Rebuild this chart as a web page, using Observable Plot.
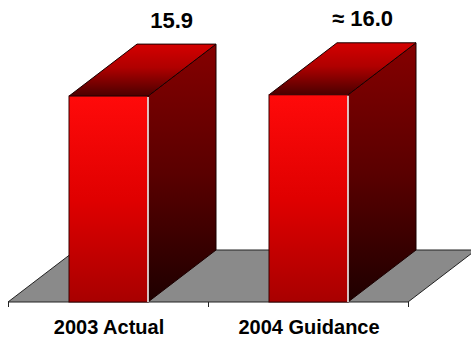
<!DOCTYPE html>
<html>
<head>
<meta charset="utf-8">
<script src="https://cdn.jsdelivr.net/npm/d3@7"></script>
<script src="https://cdn.jsdelivr.net/npm/@observablehq/plot@0.6"></script>
<style>
  html, body { margin: 0; padding: 0; background: white; }
  #chart svg { display: block; }
</style>
</head>
<body>
<div id="chart"></div>
<script>
const categories = ["2003 Actual", "2004 Guidance"];
const values = [15.9, 16.0];
const valueLabels = ["15.9", "\u2248 16.0"];

const data = categories.map((c, i) => ({category: c, value: values[i], label: valueLabels[i]}));

// oblique depth of the 3D effect (pixels)
const DX = 68, DY = -52;

function bw(scale) {
  return typeof scale.bandwidth === "function" ? scale.bandwidth() : scale.bandwidth;
}

// floor (grey parallelogram) with boundary ticks
function floorMark(index, scales, vals, dimensions) {
  const {x, y} = scales;
  const {width, marginLeft, marginRight} = dimensions;
  const x0 = marginLeft, x1 = width - marginRight;
  const y0 = y(0);
  const g = d3.create("svg:g");
  g.append("path")
    .attr("d", `M${x0},${y0}L${x1},${y0}L${x1 + DX},${y0 + DY}L${x0 + DX},${y0 + DY}Z`)
    .attr("fill", "#8a8a8a")
    .attr("stroke", "#222")
    .attr("stroke-width", 1);
  const b = bw(x);
  const step = x(categories[1]) - x(categories[0]);
  const pad = (step - b) / 2;
  const bounds = categories.map(c => x(c) - pad);
  bounds.push(x(categories[categories.length - 1]) + b + pad);
  for (const bx of bounds) {
    g.append("line")
      .attr("x1", bx).attr("x2", bx)
      .attr("y1", y0).attr("y2", y0 + 5)
      .attr("stroke", "#222").attr("stroke-width", 1);
  }
  return g.node();
}

// 3D bars: side, top and front faces drawn from the scales
function bars3dMark(index, scales, vals, dimensions) {
  const {x, y} = scales;
  const b = bw(x);
  const g = d3.create("svg:g");
  const defs = g.append("defs");
  const grad = (id, stops) => {
    const lg = defs.append("linearGradient").attr("id", id)
      .attr("x1", 0).attr("y1", 0).attr("x2", 0).attr("y2", 1);
    stops.forEach(([o, c]) => lg.append("stop").attr("offset", o).attr("stop-color", c));
  };
  grad("gFront", [[0, "#ff0a0a"], [0.5, "#e00000"], [1, "#a80000"]]);
  grad("gSide", [[0, "#850000"], [0.5, "#5a0000"], [1, "#1e0000"]]);
  grad("gTop", [[0, "#d40000"], [0.45, "#b00000"], [1, "#4a0000"]]);
  data.forEach(d => {
    const xl = x(d.category), xr = xl + b;
    const yb = y(0), yt = y(d.value);
    // side face
    g.append("path")
      .attr("d", `M${xr},${yb}L${xr + DX},${yb + DY}L${xr + DX},${yt + DY}L${xr},${yt}Z`)
      .attr("fill", "url(#gSide)").attr("stroke", "#1a0000").attr("stroke-width", 1)
      .attr("stroke-linejoin", "round");
    // top face
    g.append("path")
      .attr("d", `M${xl},${yt}L${xr},${yt}L${xr + DX},${yt + DY}L${xl + DX},${yt + DY}Z`)
      .attr("fill", "url(#gTop)").attr("stroke", "#1a0000").attr("stroke-width", 1)
      .attr("stroke-linejoin", "round");
    // front face
    g.append("rect")
      .attr("x", xl).attr("y", yt).attr("width", b).attr("height", yb - yt)
      .attr("fill", "url(#gFront)").attr("stroke", "#3a0000").attr("stroke-width", 1);
    // highlight edge
    g.append("line")
      .attr("x1", xr).attr("x2", xr).attr("y1", yt + 1).attr("y2", yb)
      .attr("stroke", "white").attr("stroke-width", 1.5);
  });
  return g.node();
}

const chart = Plot.plot({
  width: 471,
  height: 341,
  marginLeft: 8,
  marginRight: 63,
  marginTop: 43,
  marginBottom: 39,
  style: {
    fontFamily: "'Liberation Sans', Arial, sans-serif",
    fontSize: "20px",
    fontWeight: "bold",
    background: "white",
    color: "black",
    overflow: "hidden"
  },
  x: {type: "band", domain: categories, paddingInner: 0.605, paddingOuter: 0.3025, tickSize: 0, tickPadding: 17, label: null},
  y: {domain: [0, 20], axis: null},
  marks: [
    floorMark,
    bars3dMark,
    Plot.text(data, {
      x: "category", y: "value", text: "label",
      textAnchor: "end", dx: 84, dy: -76,
      fontSize: 22, fontWeight: "bold", fill: "black"
    })
  ]
});
document.getElementById("chart").appendChild(chart);
</script>
</body>
</html>
